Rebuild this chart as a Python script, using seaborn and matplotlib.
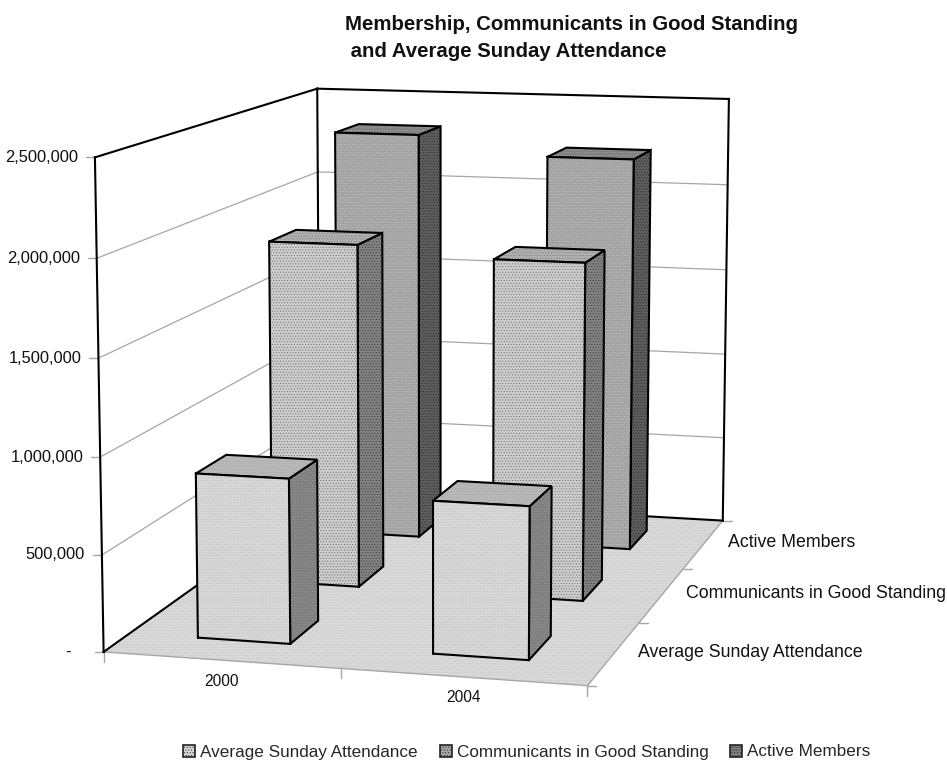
import numpy as np
import matplotlib
matplotlib.use("Agg")
import matplotlib.pyplot as plt
from matplotlib.patches import Patch
import seaborn as sns

# Survey figures by year and measure
years = ["2000", "2004"]
measures = ["Average Sunday Attendance", "Communicants in Good Standing", "Active Members"]
average_sunday = [857000, 785000]
communicants = [1875000, 1825000]
active_members = [2335000, 2232000]
value_ticks = [0, 500000, 1000000, 1500000, 2000000, 2500000]
value_tick_labels = ["-", "500,000", "1,000,000", "1,500,000", "2,000,000", "2,500,000"]
title_text = "Membership, Communicants in Good Standing\n and Average Sunday Attendance"

sns.set_theme(style="white")
plt.rcParams["font.family"] = ["Liberation Sans", "DejaVu Sans"]
plt.rcParams["hatch.linewidth"] = 0.4

fig = plt.figure(figsize=(9.47, 7.6), dpi=100)
ax = fig.add_axes([0, 0, 1, 1])
ax.set_xlim(0, 947)
ax.set_ylim(760, 0)
ax.axis("off")

# Camera for the 3D box: (category, depth, value) -> figure pixels, solved by
# least squares from where the box's reference points should land.
ZMAX = value_ticks[-1]
box_world = np.array([
    (0, 0, 0), (2, 0, 0), (2, 3, 0), (0, 3, 0),
    (0, 0, 2.5), (0, 3, 2.5), (2, 3, 2.5),
    (0, 0, 2.0), (0, 3, 2.0), (2, 3, 2.0),
    (1, 0, 0), (2, 1, 0), (2, 2, 0),
], dtype=float)
box_screen = np.array([
    (104, 651), (587, 687), (723, 520), (319, 499),
    (94, 158), (318, 88), (729, 99),
    (97, 258), (318, 172), (727, 185),
    (341, 668), (640, 623), (683, 568),
], dtype=float)


def solve_camera(world, screen):
    rows, rhs = [], []
    for (X, Y, Z), (u, v) in zip(world, screen):
        rows.append([X, Y, Z, 1, 0, 0, 0, 0, -u * X, -u * Y, -u * Z])
        rows.append([0, 0, 0, 0, X, Y, Z, 1, -v * X, -v * Y, -v * Z])
        rhs += [u, v]
    p, *_ = np.linalg.lstsq(np.array(rows), np.array(rhs), rcond=None)
    return np.append(p, 1).reshape(3, 4)


CAMERA = solve_camera(box_world, box_screen)


def project(x, y, value):
    h = CAMERA @ np.array([x, y, value / 1e6, 1.0])
    return h[0] / h[2], h[1] / h[2]


def face(corners, color, dots=None, edge="black", lw=1.5, zorder=2):
    pts = [project(*c) for c in corners]
    xs, ys = zip(*pts)
    if dots:
        ax.fill(xs, ys, facecolor=color, edgecolor=dots, hatch="......", linewidth=0, zorder=zorder)
    else:
        ax.fill(xs, ys, facecolor=color, linewidth=0, zorder=zorder)
    if edge:
        ax.plot(xs + xs[:1], ys + ys[:1], color=edge, lw=lw, zorder=zorder, solid_joinstyle="miter")


def line(a, b, color="black", lw=1.5, zorder=1.5):
    pa, pb = project(*a), project(*b)
    ax.plot([pa[0], pb[0]], [pa[1], pb[1]], color=color, lw=lw, zorder=zorder, solid_capstyle="projecting")


GRID = "#a6a6a6"

# Floor and walls
face([(0, 0, 0), (2, 0, 0), (2, 3, 0), (0, 3, 0)], "#d9d9d9", dots="#c4c4c4", edge=None, zorder=1)
for v in value_ticks[1:-1]:
    line((0, 0, v), (0, 3, v), GRID, 0.9, 1.2)
    line((0, 3, v), (2, 3, v), GRID, 0.9, 1.2)
line((0, 0, 0), (2, 0, 0), GRID, 1.0)
line((2, 0, 0), (2, 3, 0), GRID, 1.0)
line((0, 0, 0), (0, 3, 0))
line((0, 3, 0), (2, 3, 0))
line((0, 0, 0), (0, 0, ZMAX))
line((0, 3, 0), (0, 3, ZMAX))
line((2, 3, 0), (2, 3, ZMAX))
line((0, 0, ZMAX), (0, 3, ZMAX))
line((0, 3, ZMAX), (2, 3, ZMAX))

# Value axis ticks and labels
for v, label in zip(value_ticks, value_tick_labels):
    px, py = project(0, 0, v)
    ax.plot([px - 9, px], [py, py], color=GRID, lw=1.0, zorder=1.3)
    ax.text(px - 17 if v else px - 33, py, label, ha="right", va="center", fontsize=11.9, color="#111111")

# Category axis ticks and labels
for i in range(3):
    px, py = project(i, 0, 0)
    ax.plot([px, px], [py, py + 10], color=GRID, lw=1.0, zorder=1.3)
for i, year in enumerate(years):
    px, py = project(i + 0.5, 0, 0)
    ax.text(px, py + 21, year, ha="center", va="center", fontsize=11.2, color="#111111")

# Depth axis ticks and labels
for j in range(4):
    px, py = project(2, j, 0)
    ax.plot([px, px + 9], [py, py], color=GRID, lw=1.0, zorder=1.3)
for j, name in enumerate(measures):
    px, py = project(2, j + 0.5, 0)
    ax.text(px + 24, py - 1, name, ha="left", va="center", fontsize=12.75, color="#111111")

# Bars, painted from the back row forward
series = [average_sunday, communicants, active_members]
styles = [
    dict(front="#d8d8d8", front_dots="#bcbcbc", top="#b9b9b9", top_dots="#a4a4a4", side="#7f7f7f", side_dots="#9c9c9c"),
    dict(front="#cdcdcd", front_dots="#6e6e6e", top="#b0b0b0", top_dots="#7c7c7c", side="#828282", side_dots="#3c3c3c"),
    dict(front="#a2a2a2", front_dots="#c8c8c8", top="#808080", top_dots="#a8a8a8", side="#5e5e5e", side_dots="#2a2a2a"),
]
X0, X1 = 0.295, 0.692
Y0, Y1 = 0.31, 0.70
for j in (2, 1, 0):
    st = styles[j]
    for i, v in enumerate(series[j]):
        x0, x1, y0, y1 = i + X0, i + X1, j + Y0, j + Y1
        z = 3 + (2 - j)
        face([(x1, y0, 0), (x1, y1, 0), (x1, y1, v), (x1, y0, v)], st["side"], st["side_dots"], zorder=z)
        face([(x0, y0, v), (x1, y0, v), (x1, y1, v), (x0, y1, v)], st["top"], st["top_dots"], zorder=z)
        face([(x0, y0, 0), (x1, y0, 0), (x1, y0, v), (x0, y0, v)], st["front"], st["front_dots"], zorder=z)

# Title and legend
ax.text(345, 38, title_text, ha="left", va="center", fontsize=14.65, fontweight="bold",
        color="#111111", linespacing=1.5)
legend_faces = ["#d8d8d8", "#a8a8a8", "#808080"]
handles = [Patch(facecolor=legend_faces[k], edgecolor="#222222", linewidth=1.2,
                 hatch="......", label=measures[k])
           for k in range(3)]
ax.legend(handles=handles, ncol=3, frameon=False, fontsize=12.3, loc="center",
          bbox_to_anchor=(527, 752), bbox_transform=ax.transData,
          handlelength=0.7, handleheight=0.7, handletextpad=0.3, columnspacing=1.27,
          borderpad=0, borderaxespad=0)

fig.savefig("out.png", dpi=100, facecolor="white")
